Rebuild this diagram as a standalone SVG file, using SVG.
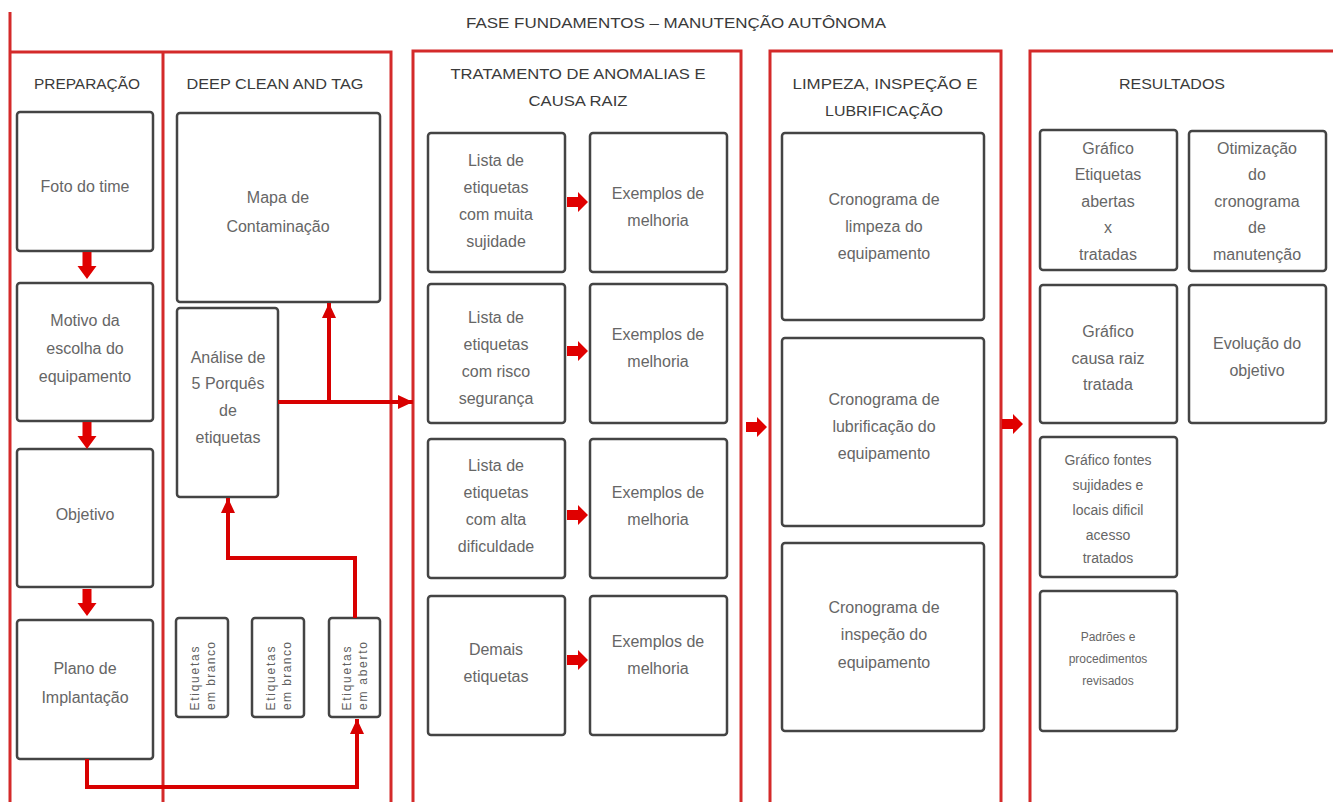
<svg xmlns="http://www.w3.org/2000/svg" width="1333" height="802" viewBox="0 0 1333 802">
  <style>
    .frame { fill: none; stroke: #d42a2a; stroke-width: 3; }
    .box { fill: #ffffff; stroke: #444444; stroke-width: 2.5; }
    .title { font-family: "Liberation Sans", Arial, sans-serif; font-size: 15px; fill: #3a3a3a; text-anchor: middle; }
    .txt { font-family: "Liberation Sans", Arial, sans-serif; font-size: 16px; fill: #666666; text-anchor: middle; }
    .small { font-family: "Liberation Sans", Arial, sans-serif; font-size: 12px; fill: #606060; text-anchor: middle; }
    .conn { fill: none; stroke: #d80000; stroke-width: 4; }
    .blk { fill: #e00000; }
  </style>
  <defs>
    <marker id="head" markerUnits="userSpaceOnUse" markerWidth="16" markerHeight="16" refX="15" refY="8" orient="auto">
      <path d="M0,1 L15,8 L0,15 Z" fill="#d80000"/>
    </marker>
    <path id="blk-right" class="blk" d="M0,-5 H11 V-10 L21,0 L11,10 V5 H0 Z"/>
    <path id="blk-down" class="blk" d="M-4.5,0 V14 H-9.5 L0,27 L9.5,14 H4.5 V0 Z"/>
  </defs>

  <!-- phase title -->
  <text id="phase-title" class="title" x="676" y="28" textLength="420" lengthAdjust="spacingAndGlyphs">FASE FUNDAMENTOS – MANUTENÇÃO AUTÔNOMA</text>

  <!-- column frames -->
  <g id="frames">
    <path class="frame" d="M10,12 V802 M10,52 H391 V802 M163,52 V802"/>
    <path class="frame" d="M413,802 V51 H741 V802"/>
    <path class="frame" d="M770,802 V51 H1001 V802"/>
    <path class="frame" d="M1030,802 V51 H1340"/>
  </g>

  <!-- column headings -->
  <g id="headings">
    <text class="title" x="87" y="89" textLength="106" lengthAdjust="spacingAndGlyphs">PREPARAÇÃO</text>
    <text class="title" x="275" y="89" textLength="177" lengthAdjust="spacingAndGlyphs">DEEP CLEAN AND TAG</text>
    <text class="title" x="578" y="79" textLength="255" lengthAdjust="spacingAndGlyphs">TRATAMENTO DE ANOMALIAS E</text>
    <text class="title" x="578" y="106" textLength="99" lengthAdjust="spacingAndGlyphs">CAUSA RAIZ</text>
    <text class="title" x="885" y="89" textLength="185" lengthAdjust="spacingAndGlyphs">LIMPEZA, INSPEÇÃO E</text>
    <text class="title" x="884" y="116" textLength="118" lengthAdjust="spacingAndGlyphs">LUBRIFICAÇÃO</text>
    <text class="title" x="1172" y="89" textLength="106" lengthAdjust="spacingAndGlyphs">RESULTADOS</text>
  </g>

  <!-- Preparação -->
  <g id="foto-do-time">
    <rect class="box" x="17" y="112" width="136" height="139" rx="3"/>
    <text class="txt" x="85" y="192">Foto do time</text>
  </g>
  <g id="motivo">
    <rect class="box" x="17" y="283" width="136" height="138" rx="3"/>
    <text class="txt" x="85" y="326">Motivo da</text>
    <text class="txt" x="85" y="354">escolha do</text>
    <text class="txt" x="85" y="382">equipamento</text>
  </g>
  <g id="objetivo">
    <rect class="box" x="17" y="449" width="136" height="138" rx="3"/>
    <text class="txt" x="85" y="520">Objetivo</text>
  </g>
  <g id="plano">
    <rect class="box" x="17" y="620" width="136" height="139" rx="3"/>
    <text class="txt" x="85" y="674">Plano de</text>
    <text class="txt" x="85" y="703">Implantação</text>
  </g>

  <!-- Deep clean and tag -->
  <g id="mapa">
    <rect class="box" x="177" y="113" width="203" height="189" rx="3"/>
    <text class="txt" x="278" y="203">Mapa de</text>
    <text class="txt" x="278" y="232">Contaminação</text>
  </g>
  <g id="analise">
    <rect class="box" x="177" y="308" width="101" height="189" rx="3"/>
    <text class="txt" x="228" y="363">Análise de</text>
    <text class="txt" x="228" y="389">5 Porquês</text>
    <text class="txt" x="228" y="416">de</text>
    <text class="txt" x="228" y="443">etiquetas</text>
  </g>
  <g id="etiquetas-branco-1">
    <rect class="box" x="176" y="618" width="52" height="99" rx="3"/>
    <text class="small" transform="translate(202,676) rotate(-90)">
      <tspan x="0" y="-3" textLength="64" lengthAdjust="spacing">Etiquetas</tspan>
      <tspan x="0" y="13" textLength="68" lengthAdjust="spacing">em branco</tspan>
    </text>
  </g>
  <g id="etiquetas-branco-2">
    <rect class="box" x="252" y="618" width="52" height="99" rx="3"/>
    <text class="small" transform="translate(278,676) rotate(-90)">
      <tspan x="0" y="-3" textLength="64" lengthAdjust="spacing">Etiquetas</tspan>
      <tspan x="0" y="13" textLength="68" lengthAdjust="spacing">em branco</tspan>
    </text>
  </g>
  <g id="etiquetas-aberto">
    <rect class="box" x="329" y="618" width="51" height="99" rx="3"/>
    <text class="small" transform="translate(354,676) rotate(-90)">
      <tspan x="0" y="-3" textLength="64" lengthAdjust="spacing">Etiquetas</tspan>
      <tspan x="0" y="13" textLength="68" lengthAdjust="spacing">em aberto</tspan>
    </text>
  </g>

  <!-- Tratamento de anomalias e causa raiz -->
  <g id="lista-sujidade">
    <rect class="box" x="428" y="133" width="137" height="139" rx="3"/>
    <text class="txt" x="496" y="166">Lista de</text>
    <text class="txt" x="496" y="193">etiquetas</text>
    <text class="txt" x="496" y="220">com muita</text>
    <text class="txt" x="496" y="247">sujidade</text>
  </g>
  <g id="melhoria-1">
    <rect class="box" x="590" y="133" width="137" height="139" rx="3"/>
    <text class="txt" x="658" y="199">Exemplos de</text>
    <text class="txt" x="658" y="226">melhoria</text>
  </g>
  <g id="lista-seguranca">
    <rect class="box" x="428" y="284" width="137" height="139" rx="3"/>
    <text class="txt" x="496" y="323">Lista de</text>
    <text class="txt" x="496" y="350">etiquetas</text>
    <text class="txt" x="496" y="377">com risco</text>
    <text class="txt" x="496" y="404">segurança</text>
  </g>
  <g id="melhoria-2">
    <rect class="box" x="590" y="284" width="137" height="139" rx="3"/>
    <text class="txt" x="658" y="340">Exemplos de</text>
    <text class="txt" x="658" y="367">melhoria</text>
  </g>
  <g id="lista-dificuldade">
    <rect class="box" x="428" y="439" width="137" height="139" rx="3"/>
    <text class="txt" x="496" y="471">Lista de</text>
    <text class="txt" x="496" y="498">etiquetas</text>
    <text class="txt" x="496" y="525">com alta</text>
    <text class="txt" x="496" y="552">dificuldade</text>
  </g>
  <g id="melhoria-3">
    <rect class="box" x="590" y="439" width="137" height="139" rx="3"/>
    <text class="txt" x="658" y="498">Exemplos de</text>
    <text class="txt" x="658" y="525">melhoria</text>
  </g>
  <g id="demais">
    <rect class="box" x="428" y="596" width="137" height="139" rx="3"/>
    <text class="txt" x="496" y="655">Demais</text>
    <text class="txt" x="496" y="682">etiquetas</text>
  </g>
  <g id="melhoria-4">
    <rect class="box" x="590" y="596" width="137" height="139" rx="3"/>
    <text class="txt" x="658" y="647">Exemplos de</text>
    <text class="txt" x="658" y="674">melhoria</text>
  </g>

  <!-- Limpeza, inspeção e lubrificação -->
  <g id="cron-limpeza">
    <rect class="box" x="782" y="133" width="202" height="187" rx="3"/>
    <text class="txt" x="884" y="205">Cronograma de</text>
    <text class="txt" x="884" y="232">limpeza do</text>
    <text class="txt" x="884" y="259">equipamento</text>
  </g>
  <g id="cron-lubrificacao">
    <rect class="box" x="782" y="338" width="202" height="188" rx="3"/>
    <text class="txt" x="884" y="405">Cronograma de</text>
    <text class="txt" x="884" y="432">lubrificação do</text>
    <text class="txt" x="884" y="459">equipamento</text>
  </g>
  <g id="cron-inspecao">
    <rect class="box" x="782" y="543" width="202" height="188" rx="3"/>
    <text class="txt" x="884" y="613">Cronograma de</text>
    <text class="txt" x="884" y="640">inspeção do</text>
    <text class="txt" x="884" y="668">equipamento</text>
  </g>

  <!-- Resultados -->
  <g id="grafico-etiquetas">
    <rect class="box" x="1040" y="130" width="137" height="140" rx="3"/>
    <text class="txt" x="1108" y="154">Gráfico</text>
    <text class="txt" x="1108" y="180">Etiquetas</text>
    <text class="txt" x="1108" y="207">abertas</text>
    <text class="txt" x="1108" y="233">x</text>
    <text class="txt" x="1108" y="260">tratadas</text>
  </g>
  <g id="otimizacao">
    <rect class="box" x="1189" y="131" width="137" height="140" rx="3"/>
    <text class="txt" x="1257" y="154">Otimização</text>
    <text class="txt" x="1257" y="180">do</text>
    <text class="txt" x="1257" y="207">cronograma</text>
    <text class="txt" x="1257" y="233">de</text>
    <text class="txt" x="1257" y="260">manutenção</text>
  </g>
  <g id="grafico-causa">
    <rect class="box" x="1040" y="285" width="137" height="138" rx="3"/>
    <text class="txt" x="1108" y="337">Gráfico</text>
    <text class="txt" x="1108" y="364">causa raiz</text>
    <text class="txt" x="1108" y="390">tratada</text>
  </g>
  <g id="evolucao">
    <rect class="box" x="1189" y="285" width="137" height="138" rx="3"/>
    <text class="txt" x="1257" y="349">Evolução do</text>
    <text class="txt" x="1257" y="376">objetivo</text>
  </g>
  <g id="grafico-fontes">
    <rect class="box" x="1040" y="437" width="137" height="140" rx="3"/>
    <text class="txt" style="font-size:14px" x="1108" y="465">Gráfico fontes</text>
    <text class="txt" style="font-size:14px" x="1108" y="490">sujidades e</text>
    <text class="txt" style="font-size:14px" x="1108" y="515">locais dificil</text>
    <text class="txt" style="font-size:14px" x="1108" y="540">acesso</text>
    <text class="txt" style="font-size:14px" x="1108" y="563">tratados</text>
  </g>
  <g id="padroes">
    <rect class="box" x="1040" y="591" width="137" height="140" rx="3"/>
    <text class="txt" style="font-size:12px" x="1108" y="641">Padrões e</text>
    <text class="txt" style="font-size:12px" x="1108" y="663">procedimentos</text>
    <text class="txt" style="font-size:12px" x="1108" y="685">revisados</text>
  </g>

  <!-- connectors -->
  <g id="connectors">
    <use href="#blk-down" x="87" y="252"/>
    <use href="#blk-down" x="87" y="422"/>
    <use href="#blk-down" x="87" y="589"/>

    <path class="conn" d="M87,759 V787 H357 V719" marker-end="url(#head)"/>
    <path class="conn" d="M355,618 V558 H228 V498" marker-end="url(#head)"/>
    <path class="conn" d="M278,402 H413" marker-end="url(#head)"/>
    <path class="conn" d="M329,402 V303" marker-end="url(#head)"/>

    <use href="#blk-right" x="567" y="202"/>
    <use href="#blk-right" x="567" y="351"/>
    <use href="#blk-right" x="567" y="515"/>
    <use href="#blk-right" x="567" y="660"/>

    <use href="#blk-right" x="746" y="427"/>
    <use href="#blk-right" x="1002" y="424"/>
  </g>
</svg>
